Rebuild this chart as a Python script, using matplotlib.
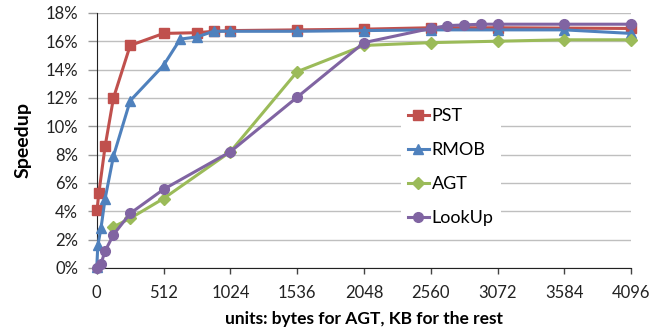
#!/usr/bin/env python3
"""Speedup vs. buffer size for PST, RMOB, AGT and LookUp."""
import matplotlib
matplotlib.use("Agg")
import matplotlib.pyplot as plt
from matplotlib.ticker import FuncFormatter

# values (speedup in %)
pst_x = [2, 16, 64, 128, 256, 512, 768, 896, 1024, 1536, 2048, 2560, 3072, 4096]
pst_y = [4.1, 5.3, 8.6, 12.0, 15.7, 16.55, 16.6, 16.7, 16.75, 16.8, 16.85, 16.95, 16.95, 16.9]

rmob_x = [0, 8, 32, 64, 128, 256, 512, 640, 768, 896, 1024, 1536, 2048, 2560, 3072, 3584, 4096]
rmob_y = [0.1, 1.6, 2.8, 4.9, 7.9, 11.8, 14.3, 16.15, 16.3, 16.7, 16.7, 16.7, 16.75, 16.8, 16.8, 16.8, 16.55]

agt_x = [128, 256, 512, 1024, 1536, 2048, 2560, 3072, 3584, 4096]
agt_y = [2.9, 3.5, 4.9, 8.2, 13.85, 15.7, 15.9, 16.0, 16.1, 16.1]

lookup_x = [0, 32, 64, 128, 256, 512, 1024, 1536, 2048, 2560, 2688, 2816, 2944, 3072, 3584, 4096]
lookup_y = [0.0, 0.3, 1.2, 2.35, 3.85, 5.55, 8.2, 12.05, 15.9, 16.9, 17.1, 17.15, 17.2, 17.2, 17.2, 17.2]

x_ticks = [0, 512, 1024, 1536, 2048, 2560, 3072, 3584, 4096]
y_ticks = [0, 2, 4, 6, 8, 10, 12, 14, 16, 18]

plt.rcParams["font.family"] = ["Lato", "DejaVu Sans"]

fig = plt.figure(figsize=(6.54, 3.30), dpi=100)
ax = fig.add_axes([0.148, 0.188, 0.817, 0.773])

series = [
    ("PST", pst_x, pst_y, "#C0504D", "s", 6.5),
    ("RMOB", rmob_x, rmob_y, "#4F81BD", "^", 7.5),
    ("AGT", agt_x, agt_y, "#9BBB59", "D", 6),
    ("LookUp", lookup_x, lookup_y, "#8064A2", "o", 7),
]
for label, xs, ys, color, marker, ms in series:
    ax.plot(xs, ys, color=color, marker=marker, markersize=ms, linewidth=2.2,
            label=label, clip_on=False, zorder=3)

ax.set_xlim(0, 4096)
ax.set_ylim(0, 18)
ax.set_xticks(x_ticks)
ax.set_yticks(y_ticks)
ax.yaxis.set_major_formatter(FuncFormatter(lambda v, _: f"{v:.0f}%"))
ax.tick_params(axis="both", labelsize=12, colors="#222222", width=1)
ax.tick_params(axis="x", direction="out", color="#444444", length=4.5, pad=8)
ax.tick_params(axis="y", direction="out", color="#999999", length=6.5, pad=7)
ax.grid(axis="y", color="#BFBFBF", linewidth=1)
ax.set_axisbelow(True)
for side in ("top", "right"):
    ax.spines[side].set_visible(False)
ax.spines["left"].set_color("#222222")
ax.spines["bottom"].set_color("#222222")

ax.set_ylabel("Speedup", fontsize=14, fontweight="bold", labelpad=10)
ax.set_xlabel("units: bytes for AGT, KB for the rest", fontsize=12.5,
              fontweight="bold", labelpad=7)

leg = ax.legend(loc="upper left", bbox_to_anchor=(0.569, 0.655), frameon=True,
                fontsize=13, handlelength=1.15, handletextpad=0.15,
                labelspacing=1.0, borderpad=0.4, borderaxespad=0)
leg.get_frame().set_edgecolor("none")
leg.get_frame().set_facecolor("white")
leg.get_frame().set_alpha(1)

fig.savefig("out.png", dpi=100)
